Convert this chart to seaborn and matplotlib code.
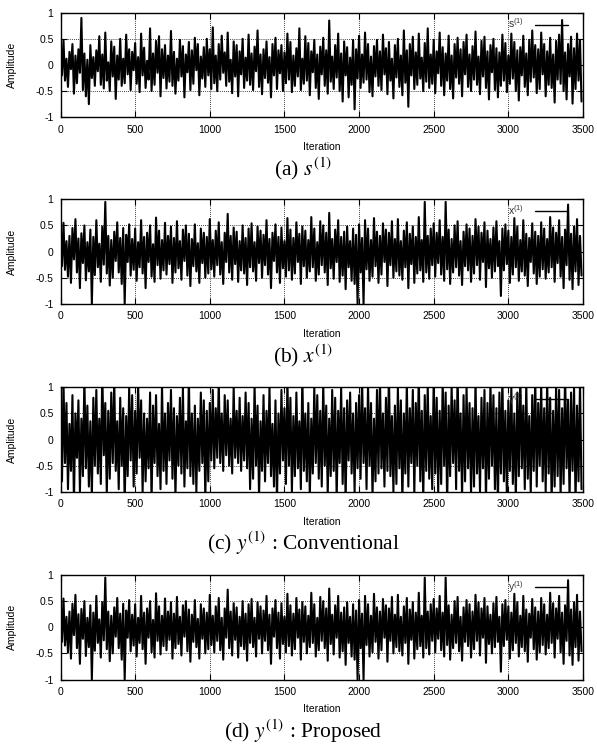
import numpy as np
import pandas as pd
import matplotlib
matplotlib.use("Agg")
import matplotlib.pyplot as plt
import seaborn as sns

# ---------------- data (amplitudes in hundredths, one sample per 10 iterations) ----------------
iterations = list(range(0, 3500, 10))

s_source = [
    35, -20, 48, -30, 12, -42, 25, -8, 40, -55, 18, -35, 30, -15, 90, -48, 22, -60, 10, -75, 38, -25, 15, -40, 28,
    -12, 55, -38, 20, -45, 62, -30, 5, -50, 45, -22, 35, -65, 18, -28, 50, -40, 12, -35, 58, -18, 30, -48, 25, -10,
    42, -36, 15, -52, 60, -20, 33, -44, 8, -28, 70, -50, 22, -38, 46, -15, 55, -60, 30, -25, 38, -45, 18, -32, 65,
    -40, 25, -55, 12, -30, 48, -22, 36, -62, 20, -14, 44, -48, 28, -36, 52, -10, 40, -58, 16, -26, 34, -42, 50, -20,
    30, -46, 72, -35, 18, -50, 40, -28, 56, -15, 24, -40, 62, -32, 10, -54, 45, -22, 38, -60, 26, -18, 50, -44, 14,
    -30, 58, -38, 22, -48, 35, -12, 66, -42, 20, -56, 30, -25, 45, -34, 15, -62, 40, -20, 52, -46, 28, -16, 38, -50,
    24, -35, 60, -28, 44, -52, 18, -40, 32, -22, 70, -48, 12, -36, 55, -30, 42, -58, 26, -14, 48, -44, 20, -65, 35,
    -18, 52, -40, 28, -55, 85, -32, 16, -46, 38, -24, 60, -50, 22, -70, 45, -20, 34, -62, 14, -38, 48, -85, 30, -26,
    56, -44, 20, -34, 62, -28, 40, -52, 16, -60, 36, -22, 48, -40, 26, -48, 58, -18, 32, -56, 44, -30, 12, -64, 38,
    -24, 50, -42, 18, -58, 66, -34, 28, -80, 40, -20, 54, -46, 24, -38, 60, -26, 14, -50, 42, -32, 70, -44, 20, -36,
    48, -54, 26, -16, 62, -40, 34, -58, 22, -30, 56, -46, 18, -64, 40, -24, 52, -36, 30, -60, 44, -18, 58, -42, 20,
    -50, 36, -28, 64, -38, 16, -56, 46, -22, 54, -44, 26, -66, 38, -14, 50, -48, 32, -62, 24, -40, 58, -30, 42, -52,
    18, -36, 60, -26, 44, -50, 28, -68, 34, -20, 56, -42, 22, -58, 48, -32, 66, -24, 38, -54, 30, -46, 62, -18, 40,
    -60, 26, -38, 52, -44, 20, -72, 46, -28, 58, -36, 86, -50, 24, -66, 40, -22, 54, -74, 32, -46, 60, -30, 48, -70,
]

x_mixed = [
    40, -28, 55, -35, 20, -48, 30, -60, 45, -15, 62, -40, 25, -70, 35, -22, 50, -55, 18, -38, 42, -100, 28, -45, 60,
    -30, 15, -58, 48, -25, 95, -42, 30, -65, 22, -50, 38, -18, 56, -40, 26, -62, 45, -100, 32, -20, 52, -46, 24, -35,
    44, -56, 18, -30, 60, -42, 28, -70, 36, -20, 50, -48, 14, -58, 65, -26, 40, -52, 22, -36, 55, -44, 30, -24, 48,
    -60, 26, -40, 58, -32, 20, -54, 42, -18, 50, -46, 34, -66, 24, -28, 52, -38, 16, -60, 44, -22, 36, -50, 28, -42,
    62, -34, 22, -48, 40, -26, 56, -44, 18, -62, 36, -20, 72, -40, 30, -54, 46, -24, 38, -58, 20, -36, 50, -42, 26,
    -64, 44, -30, 54, -38, 18, -56, 48, -22, 40, -50, 32, -26, 60, -44, 24, -70, 36, -18, 52, -40, 28, -60, 46, -32,
    20, -48, 64, -36, 42, -54, 26, -42, 56, -20, 34, -62, 48, -28, 40, -50, 22, -38, 66, -30, 44, -56, 18, -44, 58,
    -26, 50, -40, 36, -64, 74, -32, 24, -52, 42, -20, 60, -58, 28, -46, 38, -72, 48, -30, 20, -56, 44, -62, 32, -100,
    52, -40, 26, -100, 60, -34, 44, -56, 22, -48, 64, -28, 38, -60, 30, -44, 54, -20, 42, -66, 36, -26, 58, -50, 24,
    -38, 62, -46, 20, -54, 40, -30, 56, -70, 34, -24, 48, -60, 28, -42, 66, -36, 22, -58, 95, -40, 30, -52, 44, -26,
    54, -48, 36, -22, 60, -44, 28, -56, 95, -34, 42, -62, 24, -40, 50, -30, 58, -46, 20, -64, 38, -28, 52, -36, 44,
    -58, 30, -42, 62, -26, 48, -54, 36, -20, 56, -68, 40, -32, 24, -50, 46, -38, 58, -28, 20, -85, 44, -36, 52, -24,
    40, -60, 28, -44, 64, -30, 48, -56, 22, -38, 60, -46, 34, -66, 26, -20, 54, -42, 38, -62, 30, -48, 56, -34, 44,
    -52, 24, -40, 66, -30, 46, -58, 36, -22, 60, -48, 28, -70, 42, -26, 90, -54, 34, -72, 48, -38, 62, -64, 30, -46,
]

y_conventional = [
    60, -80, 110, -45, 70, -95, 30, -60, 85, -120, 50, -35, 75, -100, 40, -70, 120, -55, 65, -90, 35, -110, 80, -50, 95,
    -65, 40, -85, 130, -30, 70, -105, 55, -75, 90, -45, 115, -60, 35, -95, 80, -50, 60, -125, 45, -70, 100, -40, 85, -90,
    55, -65, 110, -35, 75, -100, 50, -80, 40, -55, 90, -120, 65, -45, 85, -70, 30, -95, 105, -60, 50, -85, 70, -40, 95,
    -75, 60, -110, 45, -50, 80, -65, 100, -90, 35, -55, 120, -70, 50, -85, 65, -100, 40, -60, 90, -45, 75, -115, 55, -80,
    70, -40, 95, -55, 60, -35, 110, -45, 50, -60, 85, -30, 75, -50, 40, -65, 100, -35, 55, -45, 80, -60, 45, -40, 90,
    -55, 70, -95, 40, -75, 105, -50, 65, -110, 35, -60, 85, -80, 55, -45, 100, -70, 30, -90, 75, -120, 50, -65, 95, -40,
    60, -85, 115, -50, 80, -100, 45, -70, 90, -55, 35, -95, 125, -60, 50, -80, 70, -110, 40, -65, 100, -45, 85, -75, 55,
    -90, 110, -50, 65, -105, 40, -70, 95, -60, 80, -115, 55, -45, 100, -85, 60, -120, 75, -40, 90, -65, 50, -100, 70, -55,
    85, -75, 120, -45, 60, -95, 105, -50, 70, -110, 40, -80, 95, -65, 115, -55, 50, -90, 80, -60, 130, -70, 45, -100, 65,
    -85, 100, -55, 75, -120, 50, -65, 110, -90, 60, -45, 95, -105, 70, -50, 125, -80, 55, -115, 85, -60, 105, -75, 45, -95,
    120, -65, 80, -100, 55, -85, 115, -50, 90, -125, 65, -70, 105, -45, 75, -95, 130, -60, 50, -110, 85, -80, 100, -55, 70,
    -105, 60, -90, 115, -65, 45, -100, 80, -55, 95, -120, 70, -75, 110, -50, 85, -95, 60, -130, 90, -65, 120, -80, 55, -110,
    75, -60, 100, -85, 50, -115, 90, -70, 125, -55, 65, -95, 110, -75, 45, -105, 85, -60, 120, -90, 70, -50, 105, -80, 60,
    -100, 115, -65, 80, -120, 55, -90, 105, -70, 95, -110, 60, -85, 130, -55, 75, -115, 90, -60, 100, -125, 65, -80, 110, -95,
]

# the proposed output is visually identical to the mixture x^(1) in the reference
y_proposed = x_mixed

series_list = [s_source, x_mixed, y_conventional, y_proposed]
legend_labels = [r"$\mathregular{s^{(1)}}$", r"$\mathregular{x^{(1)}}$",
                 r"$\mathregular{y^{(1)}}$", r"$\mathregular{y^{(1)}}$"]
captions = [r"(a) $s^{(1)}$", r"(b) $x^{(1)}$",
            r"(c) $y^{(1)}$ : Conventional", r"(d) $y^{(1)}$ : Proposed"]
xticks = [0, 500, 1000, 1500, 2000, 2500, 3000, 3500]
yticks = [-1, -0.5, 0, 0.5, 1]
ytick_labels = ["-1", "-0.5", "0", "0.5", "1"]

# ---------------- styling ----------------
sns.set_theme(style="white")
plt.rcParams["font.family"] = ["Liberation Sans", "DejaVu Sans"]
plt.rcParams["mathtext.fontset"] = "stix"

W, H = 597, 745
fig = plt.figure(figsize=(W / 100, H / 100), dpi=100)
fig.patch.set_facecolor("white")

left_px, right_px = 60.5, 583.0
tops_px = [12.7, 199.3, 387.3, 575.0]
h_px = 104.5

for series, lab, cap, top in zip(series_list, legend_labels, captions, tops_px):
    ax = fig.add_axes([left_px / W, 1 - (top + h_px) / H, (right_px - left_px) / W, h_px / H])
    df = pd.DataFrame({"Iteration": iterations, "Amplitude": np.array(series) / 100.0})
    sns.lineplot(data=df, x="Iteration", y="Amplitude", ax=ax, color="black",
                 lw=1.5, estimator=None, label=lab, zorder=3)
    ax.set_xlim(0, 3500)
    ax.set_ylim(-1, 1)
    ax.set_xticks(xticks)
    ax.set_xticklabels([str(t) for t in xticks])
    ax.set_yticks(yticks)
    ax.set_yticklabels(ytick_labels)
    ax.grid(True, linestyle=(0, (1, 1.5)), color="black", lw=0.6, zorder=1)
    ax.set_axisbelow(True)
    for sp in ax.spines.values():
        sp.set_color("black")
        sp.set_linewidth(1.0)
        sp.set_visible(True)
    ax.tick_params(direction="in", length=4, width=0.8, color="black",
                   top=True, right=True, bottom=True, left=True,
                   labelsize=7.5, labelcolor="black")
    ax.tick_params(axis="x", pad=5.5)
    ax.tick_params(axis="y", pad=5)
    ax.set_xlabel("Iteration", fontsize=7.5, color="black")
    ax.set_ylabel("Amplitude", fontsize=7.5, color="black")
    ax.xaxis.set_label_coords(0.5, -25.0 / h_px)
    ax.yaxis.set_label_coords((17.0 - left_px) / (right_px - left_px), 0.5)
    leg = ax.legend(loc="upper right", bbox_to_anchor=(0.971, 0.962), frameon=False,
                    markerfirst=False, handlelength=3.2, handletextpad=1.0,
                    borderpad=0, borderaxespad=0, fontsize=7.5)
    for line in leg.get_lines():
        line.set_linewidth(1.0)
    for t in leg.get_texts():
        t.set_color("#333333")
    fig.text(303 / W, 1 - (top + h_px + 51.5) / H, cap, ha="center", va="center",
             fontsize=15.5, family=["Liberation Serif", "DejaVu Serif"], color="black")

fig.savefig("out.png", dpi=100, facecolor="white")
